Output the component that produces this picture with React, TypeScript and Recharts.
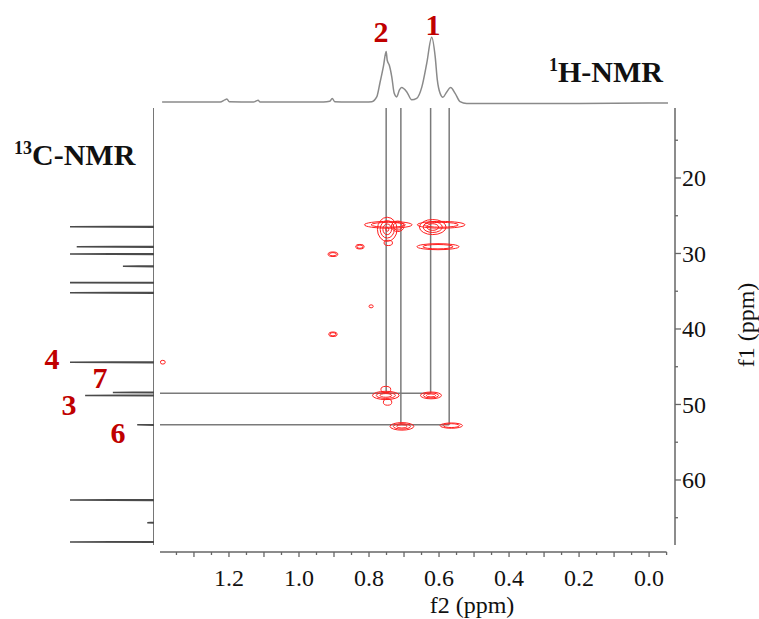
import React from "react";
import {
  ComposedChart,
  LineChart,
  Line,
  Scatter,
  XAxis,
  YAxis,
  ReferenceLine,
} from "recharts";

// ---- data ----
// 1H spectrum (top trace): f2 ppm / relative intensity
const hPpm = [
  1.391, 1.3, 1.225, 1.212, 1.206, 1.199, 1.13, 1.122, 1.117, 1.111, 0.93, 0.912, 0.905, 0.898,
  0.86, 0.81, 0.792, 0.778, 0.769, 0.759, 0.751, 0.748, 0.742, 0.735, 0.728, 0.721, 0.713, 0.707,
  0.692, 0.678, 0.664, 0.649, 0.635, 0.621, 0.611, 0.605, 0.597, 0.589, 0.578, 0.567, 0.554, 0.54,
  0.521, 0.4, 0.2, 0.0, -0.054,
];
const hInt = [
  0, 0, 0, 3, 4, 0.5, 0, 1.5, 2.5, 0, 0, 1, 5, 0.5,
  0, 0, 0.5, 7, 26, 49, 70, 58, 51, 35, 12, 7, 17, 20,
  14, 3, 5, 21, 54, 90, 63, 31, 12, 6.5, 14, 20, 12, 0.5,
  -2, -2, -2, -1.5, -1.5,
];

// 13C spectrum (left trace): f1 ppm / relative intensity (100 = clipped)
const cPpm = [26.45, 29.1, 30.07, 31.7, 33.86, 35.2, 44.4, 48.4, 48.8, 52.7, 62.65, 65.65, 68.2];
const cInt = [100, 92, 100, 37, 100, 100, 100, 49, 82, 20, 100, 8, 100];

// HSQC cross peaks: f2, f1, half width f2 (ppm), half width f1 (ppm), contour levels
const peakF2 = [0.745, 0.748, 0.718, 0.594, 0.618, 0.603, 0.745, 0.826, 0.903, 0.794, 0.903, 1.389, 0.752, 0.752, 0.747, 0.623, 0.706, 0.565];
const peakF1 = [26.2, 26.8, 26.4, 26.2, 26.5, 29.1, 28.6, 29.1, 30.1, 37.0, 40.7, 44.4, 48.8, 48.0, 49.7, 48.8, 52.9, 52.8];
const peakW2 = [0.068, 0.028, 0.018, 0.068, 0.038, 0.06, 0.012, 0.012, 0.014, 0.006, 0.012, 0.007, 0.038, 0.014, 0.012, 0.03, 0.034, 0.032];
const peakW1 = [0.45, 1.6, 0.7, 0.45, 1.0, 0.4, 0.35, 0.3, 0.3, 0.2, 0.3, 0.25, 0.55, 0.4, 0.4, 0.45, 0.5, 0.35];
const peakLevels = [2, 4, 2, 2, 3, 2, 1, 2, 2, 1, 2, 1, 3, 1, 1, 3, 3, 2];

// correlation guide lines: 1H shift -> 13C shift
const guideH = [0.751, 0.624, 0.709, 0.571];
const guideC = [48.5, 48.5, 52.7, 52.7];

const xTicks = [1.35, 1.3, 1.25, 1.2, 1.15, 1.1, 1.05, 1.0, 0.95, 0.9, 0.85, 0.8, 0.75, 0.7, 0.65, 0.6, 0.55, 0.5, 0.45, 0.4, 0.35, 0.3, 0.25, 0.2, 0.15, 0.1, 0.05, 0.0, -0.05];
const xTickLabels = ["1.2", "1.0", "0.8", "0.6", "0.4", "0.2", "0.0"];
const yTicks = [15, 20, 25, 30, 35, 40, 45, 50, 55, 60, 65];
const yTickLabels = ["20", "30", "40", "50", "60"];

// ---- layout ----
const W = 759;
const H = 619;
const BOX = { left: 160, right: 675, top: 108, bottom: 552 };
const F2_DOMAIN: [number, number] = [-0.074, 1.397];
const F1_DOMAIN: [number, number] = [10.73, 69.54];
const F1_END = 68.6;
const PX_F2 = (BOX.right - BOX.left) / (F2_DOMAIN[1] - F2_DOMAIN[0]);
const PX_F1 = (BOX.bottom - BOX.top) / (F1_DOMAIN[1] - F1_DOMAIN[0]);

const SERIF = "'Liberation Serif', 'Times New Roman', serif";
const AXIS = "#666";
const GUIDE = "#7a7a7a";
const RED = "#c00000";
const CONTOUR = "#ff1f1f";

const hData = hPpm.map((p, i) => ({ f2: p, v: hInt[i] }));

// stick trace for the 13C projection, walked top to bottom
const cData = [{ f1: F1_DOMAIN[0], v: 0 }];
cPpm.forEach((p, i) => {
  cData.push({ f1: p - 0.06, v: 0 }, { f1: p, v: cInt[i] }, { f1: p + 0.06, v: 0 });
});
cData.push({ f1: F1_END, v: 0 });

const peaks = peakF2.map((f2, i) => ({
  f2,
  f1: peakF1[i],
  w2: peakW2[i],
  w1: peakW1[i],
  n: peakLevels[i],
}));

// horizontal guides run from the 13C axis to the right-most 1H partner
const guideRows = Array.from(new Set(guideC)).map((c) => ({
  c,
  h: Math.min(...guideH.filter((_, i) => guideC[i] === c)),
}));

const ContourShape = (props: any) => {
  const { cx, cy, payload } = props;
  if (cx == null || cy == null) return null;
  const rx = payload.w2 * PX_F2;
  const ry = payload.w1 * PX_F1;
  const rings = [];
  for (let k = 0; k < payload.n; k++) {
    const s = 1 - k * 0.28;
    rings.push(
      <ellipse key={k} cx={cx} cy={cy} rx={Math.max(rx * s, 1.2)} ry={Math.max(ry * s, 1)} fill="none" stroke={CONTOUR} strokeWidth={1} />
    );
  }
  return <g>{rings}</g>;
};

const F2Tick = (props: any) => {
  const { x, payload } = props;
  const v = payload.value as number;
  const major = Math.abs(v * 10 - Math.round(v * 10)) < 1e-6;
  const label = v.toFixed(1);
  const shown = major && xTickLabels.includes(label);
  return (
    <g>
      <line x1={x} x2={x} y1={BOX.bottom} y2={BOX.bottom + (major ? 5 : 3)} stroke={AXIS} strokeWidth={1.3} />
      {shown && (
        <text x={x} y={586} textAnchor="middle" fontFamily={SERIF} fontSize={24} fill="#111">
          {label}
        </text>
      )}
    </g>
  );
};

const F1Tick = (props: any) => {
  const { y, payload } = props;
  const label = String(payload.value);
  const shown = yTickLabels.includes(label);
  return (
    <g>
      <line x1={BOX.right} x2={BOX.right + (shown ? 6 : 3)} y1={y} y2={y} stroke={AXIS} strokeWidth={1.3} />
      {shown && (
        <text x={BOX.right + 7} y={y} dy="0.35em" textAnchor="start" fontFamily={SERIF} fontSize={24} fill="#111">
          {label}
        </text>
      )}
    </g>
  );
};

const NoDot = () => <g />;

const layer: React.CSSProperties = { position: "absolute", left: 0, top: 0 };

export default function App() {
  return (
    <div style={{ position: "absolute", left: 0, top: 0, width: W, height: H, background: "#fff" }}>
      {/* 1H projection */}
      <div style={layer}>
        <LineChart width={W} height={H} data={hData} margin={{ top: 30, left: BOX.left, right: W - BOX.right, bottom: H - 109.2 }}>
          <XAxis type="number" dataKey="f2" domain={F2_DOMAIN} reversed hide allowDataOverflow />
          <YAxis type="number" domain={[-10, 100]} hide allowDataOverflow />
          <Line type="monotone" dataKey="v" stroke="#8a8a8a" strokeWidth={1.5} dot={false} isAnimationActive={false} />
        </LineChart>
      </div>

      {/* 13C projection */}
      <div style={layer}>
        <ComposedChart width={W} height={H} margin={{ top: BOX.top, left: 70, right: W - 154, bottom: H - BOX.bottom }}>
          <XAxis type="number" dataKey="v" domain={[0, 100]} reversed hide allowDataOverflow />
          <YAxis type="number" dataKey="f1" domain={F1_DOMAIN} reversed hide allowDataOverflow />
          <Scatter
            data={cData}
            line={{ stroke: "#4a4a4a", strokeWidth: 1.5 }}
            lineType="joint"
            shape={<NoDot />}
            isAnimationActive={false}
          />
        </ComposedChart>
      </div>

      {/* 2D HSQC map */}
      <div style={layer}>
        <ComposedChart width={W} height={H} margin={{ top: BOX.top, left: BOX.left, right: W - BOX.right - 60, bottom: H - BOX.bottom - 50 }}>
          <XAxis
            type="number"
            dataKey="f2"
            domain={F2_DOMAIN}
            reversed
            allowDataOverflow
            ticks={xTicks}
            interval={0}
            tick={<F2Tick />}
            tickLine={false}
            axisLine={false}
            height={50}
          />
          <YAxis
            type="number"
            dataKey="f1"
            orientation="right"
            domain={F1_DOMAIN}
            reversed
            allowDataOverflow
            ticks={yTicks}
            interval={0}
            tick={<F1Tick />}
            tickLine={false}
            axisLine={false}
            width={60}
          />
          <ReferenceLine
            segment={[{ x: F2_DOMAIN[1], y: F1_DOMAIN[1] }, { x: -0.05, y: F1_DOMAIN[1] }]}
            stroke={AXIS}
            strokeWidth={1.5}
            ifOverflow="visible"
          />
          <ReferenceLine
            segment={[{ x: F2_DOMAIN[0], y: F1_DOMAIN[0] }, { x: F2_DOMAIN[0], y: F1_END }]}
            stroke={AXIS}
            strokeWidth={1.5}
            ifOverflow="visible"
          />
          {guideH.map((h, i) => (
            <ReferenceLine
              key={`v${i}`}
              segment={[{ x: h, y: F1_DOMAIN[0] }, { x: h, y: guideC[i] }]}
              stroke={GUIDE}
              strokeWidth={1.5}
              ifOverflow="visible"
            />
          ))}
          {guideRows.map((r) => (
            <ReferenceLine
              key={`h${r.c}`}
              segment={[{ x: F2_DOMAIN[1], y: r.c }, { x: r.h, y: r.c }]}
              stroke={GUIDE}
              strokeWidth={1.5}
              ifOverflow="visible"
            />
          ))}
          <Scatter data={peaks} shape={<ContourShape />} isAnimationActive={false} />
        </ComposedChart>
      </div>

      {/* annotations */}
      <svg width={W} height={H} style={{ ...layer, pointerEvents: "none" }}>
        <g fontFamily={SERIF} fontWeight="bold" fill={RED} fontSize={30} textAnchor="middle">
          <text x={381} y={42}>2</text>
          <text x={433} y={35}>1</text>
          <text x={52} y={369}>4</text>
          <text x={100} y={388}>7</text>
          <text x={69} y={415}>3</text>
          <text x={118} y={443}>6</text>
        </g>
        <text x={549} y={82} fontFamily={SERIF} fontWeight="bold" fontSize={30} fill="#111">
          <tspan fontSize={18} dy={-11}>1</tspan>
          <tspan dy={11}>H-NMR</tspan>
        </text>
        <text x={14} y={165} fontFamily={SERIF} fontWeight="bold" fontSize={30} fill="#111">
          <tspan fontSize={18} dy={-11}>13</tspan>
          <tspan dy={11}>C-NMR</tspan>
        </text>
        <text x={472} y={613} textAnchor="middle" fontFamily={SERIF} fontSize={24} fill="#111">
          f2 (ppm)
        </text>
        <text
          x={746}
          y={325}
          textAnchor="middle"
          dy="0.35em"
          transform="rotate(-90 746 325)"
          fontFamily={SERIF}
          fontSize={24}
          fill="#111"
        >
          f1 (ppm)
        </text>
      </svg>
    </div>
  );
}
